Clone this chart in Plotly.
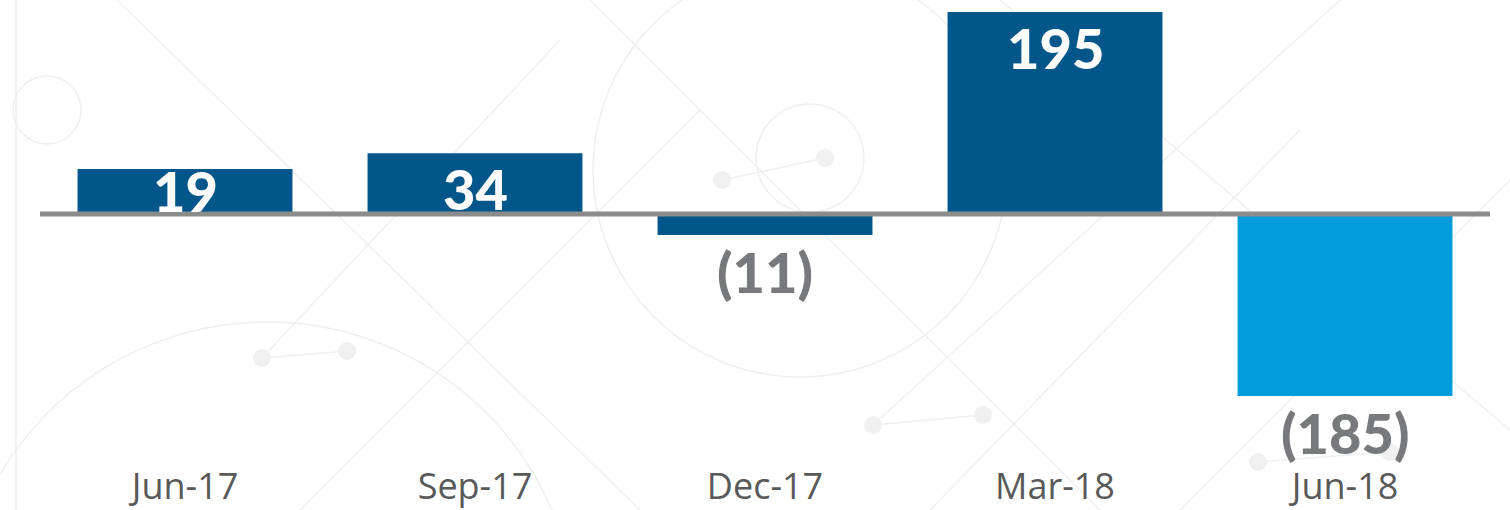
import plotly.graph_objects as go

# ---- data ----
categories = ["Jun-17", "Sep-17", "Dec-17", "Mar-18", "Jun-18"]
label_values = [19, 34, -11, 195, -185]          # printed data labels
bar_heights = [43.4, 58.6, -20.3, 195, -175.7]   # bar lengths as drawn in the picture
bar_colors = ["#02568A", "#02568A", "#02568A", "#02568A", "#029BDC"]

def fmt(v):
    return f"({abs(v)})" if v < 0 else f"{v}"

W, H_FIG = 1510, 510
ML, MR, MT, MB = 40, 20, 0, 48
PW = W - ML - MR
PH = H_FIG - MT - MB

fig = go.Figure()
fig.add_trace(go.Bar(
    x=categories, y=bar_heights,
    marker=dict(color=bar_colors, line=dict(width=0)),
    hoverinfo="skip",
    cliponaxis=False,
))

# data labels
for c, h, v in zip(categories, bar_heights, label_values):
    if v >= 0:
        fig.add_annotation(x=c, y=max(h - 34, 23), text=fmt(v), showarrow=False,
                           yanchor="middle", xanchor="center",
                           font=dict(family="Lato", size=56, color="#FFFFFF", weight=900))
    else:
        fig.add_annotation(x=c, y=h, yshift=-36, text=fmt(v), showarrow=False,
                           yanchor="middle", xanchor="center",
                           font=dict(family="Lato", size=56, color="#78797C", weight=900))

# baseline
fig.add_shape(type="line", xref="paper", yref="y", x0=0, x1=1, y0=0, y1=0,
              line=dict(color="#8C8C8C", width=5), layer="above")

# faint decorative background (pixel coords -> paper)
def px(x):
    return (x - ML) / PW

def py(y):
    return 1 - (y - MT) / PH

deco = dict(color="#EFEFEF", width=1.5)
bg_lines = [
    ((16, 0), (16, 510)),
    ((117, 0), (640, 510)),
    ((262, 358), (347, 351)),
    ((262, 358), (560, 40)),
    ((300, 510), (700, 110)),
    ((590, 0), (1100, 510)),
    ((722, 180), (825, 158)),
    ((873, 425), (983, 415)),
    ((873, 425), (1340, 0)),
    ((1258, 462), (1390, 452)),
    ((1180, 510), (1510, 180)),
    ((1000, 0), (1510, 430)),
    ((930, 510), (1300, 130)),
]
for (x0, y0), (x1, y1) in bg_lines:
    fig.add_shape(type="line", xref="paper", yref="paper",
                  x0=px(x0), y0=py(y0), x1=px(x1), y1=py(y1),
                  line=deco, layer="below")

bg_circles = [
    (47, 110, 34),
    (267, 632, 310),
    (800, 170, 207),
    (810, 158, 54),
]
for cx, cy, r in bg_circles:
    fig.add_shape(type="circle", xref="paper", yref="paper",
                  x0=px(cx - r), x1=px(cx + r), y0=py(cy + r), y1=py(cy - r),
                  line=deco, layer="below")

for cx, cy in [(262, 358), (347, 351), (722, 180), (825, 158), (873, 425), (983, 415), (1258, 462), (1390, 452)]:
    fig.add_shape(type="circle", xref="paper", yref="paper",
                  x0=px(cx - 9), x1=px(cx + 9), y0=py(cy + 9), y1=py(cy - 9),
                  line=dict(width=0), fillcolor="#F0F0F0", layer="below")

scale = 1.036  # px per unit
ymax = (214 - MT) / scale
ymin = -(MT + PH - 214) / scale

fig.update_layout(
    width=W, height=H_FIG,
    margin=dict(l=ML, r=MR, t=MT, b=MB, pad=0, autoexpand=False),
    paper_bgcolor="white", plot_bgcolor="rgba(0,0,0,0)",
    bargap=0.259,
    showlegend=False,
    xaxis=dict(showgrid=False, zeroline=False, showline=False, ticks="",
               automargin=False,
               tickfont=dict(family="Open Sans", size=36, color="#595959"),
               range=[-0.5, 4.5], fixedrange=True),
    yaxis=dict(showgrid=False, zeroline=False, showline=False, showticklabels=False,
               automargin=False,
               range=[ymin, ymax], fixedrange=True),
)

fig.write_html("out.html", config={"displayModeBar": False},
               post_script="document.body.style.margin='0';document.body.style.overflow='hidden';")
